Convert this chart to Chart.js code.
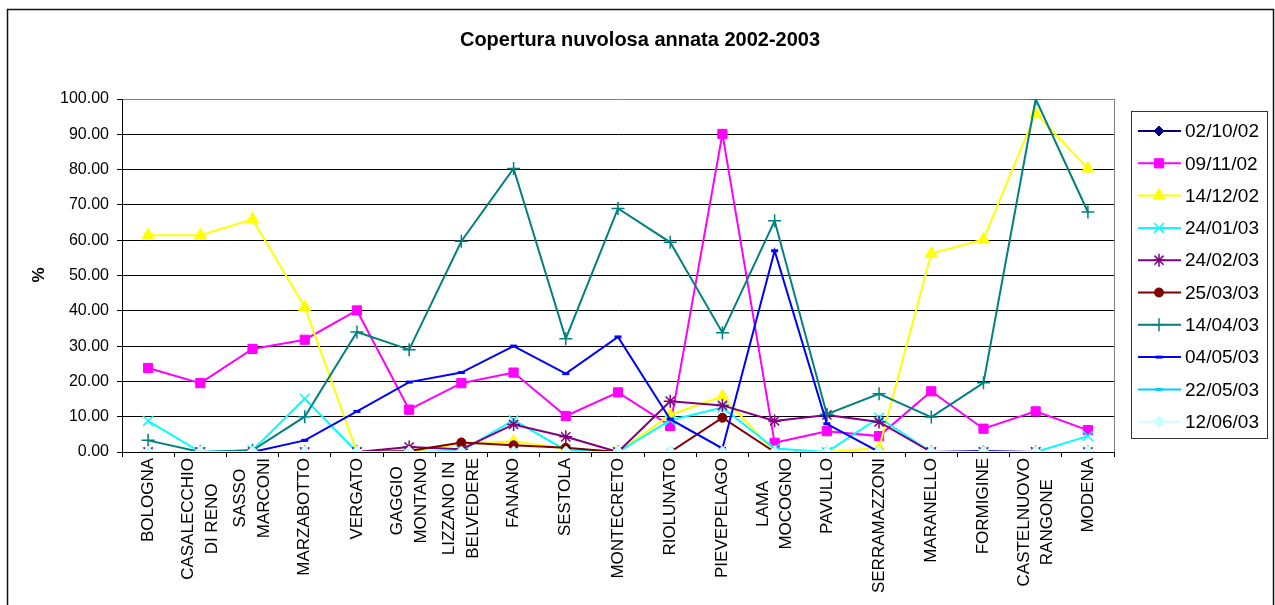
<!DOCTYPE html>
<html>
<head>
<meta charset="utf-8">
<title>Copertura nuvolosa annata 2002-2003</title>
<script src="https://cdn.jsdelivr.net/npm/chart.js@4.4.1/dist/chart.umd.min.js"></script>
<style>
    html, body { margin: 0; padding: 0; background: #fff; }
    canvas { display: block; }
</style>
</head>
<body>
<canvas id="nuvoleChart" width="1275" height="605"></canvas>
<script>
// Località (etichette asse x, su una o due righe)
const localita = [
    ['BOLOGNA'], ['CASALECCHIO', 'DI RENO'], ['SASSO', 'MARCONI'], ['MARZABOTTO'],
    ['VERGATO'], ['GAGGIO', 'MONTANO'], ['LIZZANO IN', 'BELVEDERE'], ['FANANO'],
    ['SESTOLA'], ['MONTECRETO'], ['RIOLUNATO'], ['PIEVEPELAGO'], ['LAMA', 'MOCOGNO'],
    ['PAVULLO'], ['SERRAMAZZONI'], ['MARANELLO'], ['FORMIGINE'],
    ['CASTELNUOVO', 'RANGONE'], ['MODENA']
];

// Date dei rilievi
const dateRilievo = ['02/10/02', '09/11/02', '14/12/02', '24/01/03', '24/02/03',
                     '25/03/03', '14/04/03', '04/05/03', '22/05/03', '12/06/03'];

// Copertura nuvolosa (%) per data
const cop021002 = [0, 0, 0, 0, 0, 0, 0, 0, 0, 0, 0, 0, 0, 0, 0, 0, 0, 0, 0];
const cop091102 = [23.8, 19.5, 29.2, 31.8, 40.1, 12.0, 19.5, 22.5, 10.2, 16.9, 7.4, 90.1, 2.6, 5.9, 4.5, 17.2, 6.6, 11.5, 6.2];
const cop141202 = [61.4, 61.4, 65.9, 41.1, 0, 0, 2.4, 3.0, 1.0, 0, 10.5, 15.8, 0, 0, 1.1, 56.2, 60.2, 95.9, 80.3];
const cop240103 = [8.8, 0, 0.5, 15.1, 0, 0, 0.3, 9.0, 0.5, 0, 9.0, 12.6, 1.0, 0, 9.7, 0, 0, 0, 4.5];
const cop240203 = [0, 0, 0, 0, 0, 1.4, 0.8, 7.8, 4.3, 0, 14.4, 13.2, 8.8, 10.5, 8.5, 0, 0, 0, 0];
const cop250303 = [0, 0, 0, 0, 0, 0.3, 2.7, 1.9, 1.2, 0, 0, 9.7, 0, 0, 0, 0, 0, 0, 0];
const cop140403 = [3.3, 0, 0.5, 10.0, 34.0, 29.0, 59.7, 80.3, 32.1, 69.0, 59.4, 33.8, 65.5, 10.7, 16.5, 9.9, 19.6, 100, 68.0];
const cop040503 = [0, 0, 0, 3.3, 11.5, 19.8, 22.5, 30.0, 22.2, 32.6, 9.3, 1.0, 57.0, 8.0, 0, 0, 0.3, 0, 0];
const cop220503 = [0, 0, 0, 0, 0, 0, 0, 0, 0, 0, 0, 0, 0, 0, 0, 0, 0, 0, 0];
const cop120603 = [0, 0, 0, 0, 0, 0, 0, 0, 0, 0, 0, 0, 0, 0, 0, 0, 0, 0, 0];

const valori = [cop021002, cop091102, cop141202, cop240103, cop240203,
                cop250303, cop140403, cop040503, cop220503, cop120603];

// Stile di ogni serie: colore, marcatore, raggio, spessore bordo marcatore
const stili = [
    { colore: '#000080', punto: 'rectRot',  raggio: 5,   bordo: 1 },
    { colore: '#FF00FF', punto: 'rect',     raggio: 6.5, bordo: 1 },
    { colore: '#FFFF00', punto: 'triangle', raggio: 7,   bordo: 1 },
    { colore: '#00FFFF', punto: 'crossRot', raggio: 7,   bordo: 1.5 },
    { colore: '#800080', punto: 'star',     raggio: 6.5, bordo: 1.5 },
    { colore: '#800000', punto: 'circle',   raggio: 4.5, bordo: 1 },
    { colore: '#008080', punto: 'cross',    raggio: 6.5, bordo: 1.5 },
    { colore: '#0000FF', punto: 'line',     raggio: 3.5, bordo: 3 },
    { colore: '#00CCFF', punto: 'line',     raggio: 3.5, bordo: 3 },
    { colore: '#CCFFFF', punto: 'rectRot',  raggio: 6,   bordo: 1 }
];

const FONT = "'Liberation Sans', Arial, Helvetica, sans-serif";

const datasets = dateRilievo.map((data, i) => ({
    label: data,
    data: valori[i],
    borderColor: stili[i].colore,
    backgroundColor: stili[i].colore,
    borderWidth: 2,
    pointStyle: stili[i].punto,
    pointRadius: stili[i].raggio,
    pointBorderWidth: stili[i].bordo,
    pointBackgroundColor: stili[i].colore,
    pointBorderColor: stili[i].colore,
    tension: 0,
    fill: false,
    // le serie successive vanno disegnate sopra
    order: dateRilievo.length - i
}));

// Sfondo, cornice, titoli, etichette e legenda
const cornice = {
    id: 'cornice',
    beforeDraw(chart) {
        const ctx = chart.ctx;
        ctx.save();
        ctx.fillStyle = '#fff';
        ctx.fillRect(0, 0, chart.width, chart.height);
        ctx.restore();
    },
    afterDraw(chart) {
        const ctx = chart.ctx;
        const area = chart.chartArea;
        ctx.save();

        // cornice esterna
        ctx.strokeStyle = '#111';
        ctx.lineWidth = 1.5;
        ctx.beginPath();
        ctx.moveTo(7.5, 610);
        ctx.lineTo(7.5, 9.5);
        ctx.lineTo(1273.5, 9.5);
        ctx.lineTo(1273.5, 610);
        ctx.stroke();

        // bordo destro dell'area del grafico
        ctx.strokeStyle = '#808080';
        ctx.lineWidth = 1;
        ctx.beginPath();
        ctx.moveTo(Math.round(area.right) + 0.5, area.top);
        ctx.lineTo(Math.round(area.right) + 0.5, area.bottom);
        ctx.stroke();

        // titolo
        ctx.fillStyle = '#000';
        ctx.font = 'bold 20px ' + FONT;
        ctx.textAlign = 'center';
        ctx.textBaseline = 'alphabetic';
        ctx.fillText('Copertura nuvolosa annata 2002-2003', 640, 46);

        // titolo asse y
        ctx.save();
        ctx.translate(39, 275);
        ctx.rotate(-Math.PI / 2);
        ctx.font = 'bold 17px ' + FONT;
        ctx.textBaseline = 'middle';
        ctx.fillText('%', 0, 0);
        ctx.restore();

        // etichette asse x, ruotate e centrate riga per riga
        const xScale = chart.scales.x;
        ctx.font = '17px ' + FONT;
        ctx.textAlign = 'center';
        ctx.textBaseline = 'middle';
        const interlinea = 23.5;
        localita.forEach((righe, i) => {
            const x = xScale.getPixelForValue(i);
            const lunghezza = Math.max(...righe.map(r => ctx.measureText(r).width));
            const yc = area.bottom + 6 + lunghezza / 2;
            ctx.save();
            ctx.translate(x, yc);
            ctx.rotate(-Math.PI / 2);
            righe.forEach((r, j) => {
                const off = (j - (righe.length - 1) / 2) * interlinea;
                ctx.fillText(r, 0, off);
            });
            ctx.restore();
        });

        // legenda
        const lx = 1131.5, ly = 111.5, lw = 136, lh = 327;
        ctx.strokeStyle = '#333';
        ctx.lineWidth = 1;
        ctx.strokeRect(lx, ly, lw, lh);
        ctx.font = '19px ' + FONT;
        ctx.textAlign = 'left';
        ctx.textBaseline = 'middle';
        chart.data.datasets.forEach((ds, i) => {
            const y = 131 + i * 32.3;
            ctx.strokeStyle = ds.borderColor;
            ctx.fillStyle = ds.borderColor;
            ctx.lineWidth = 2;
            ctx.beginPath();
            ctx.moveTo(1138, y);
            ctx.lineTo(1181, y);
            ctx.stroke();
            ctx.lineWidth = ds.pointBorderWidth;
            Chart.helpers.drawPoint(ctx, {
                pointStyle: ds.pointStyle,
                radius: ds.pointRadius,
                rotation: 0,
                borderWidth: ds.pointBorderWidth
            }, 1159, y);
            ctx.fillStyle = '#000';
            ctx.fillText(ds.label, 1185, y + 1);
        });

        ctx.restore();
    }
};

new Chart(document.getElementById('nuvoleChart'), {
    type: 'line',
    data: {
        labels: localita.map(r => r.join(' ')),
        datasets: datasets
    },
    options: {
        responsive: false,
        devicePixelRatio: 1,
        animation: false,
        events: [],
        layout: {
            padding: { top: 99, right: 161, bottom: 0, left: 0 }
        },
        plugins: {
            legend: { display: false },
            title: { display: false },
            tooltip: { enabled: false }
        },
        scales: {
            x: {
                type: 'category',
                offset: true,
                afterFit(scale) { scale.height = 153; },
                grid: {
                    offset: true,
                    drawOnChartArea: false,
                    drawTicks: true,
                    tickLength: 5,
                    color: '#000'
                },
                border: { color: '#000', width: 1 },
                ticks: { display: false }
            },
            y: {
                min: 0,
                max: 100,
                afterFit(scale) { scale.width = 122; },
                grid: {
                    color: function(context) {
                        return context.tick && context.tick.value === 100 ? '#808080' : '#000';
                    },
                    tickColor: '#000',
                    tickLength: 5,
                    lineWidth: 1
                },
                border: { color: '#000', width: 1 },
                ticks: {
                    stepSize: 10,
                    padding: 8,
                    color: '#000',
                    font: { family: FONT, size: 16 },
                    callback: function(value) {
                        return Number(value).toFixed(2);
                    }
                }
            }
        }
    },
    plugins: [cornice]
});
</script>
</body>
</html>
